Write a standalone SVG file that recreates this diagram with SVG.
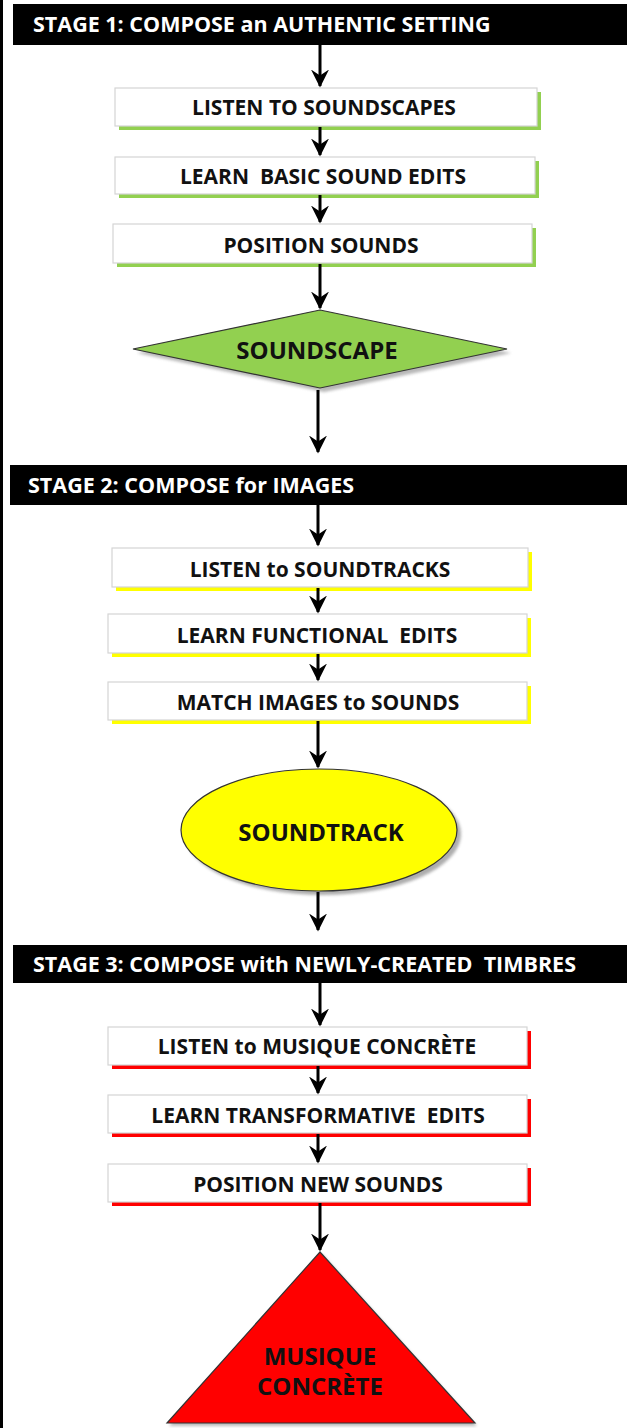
<svg xmlns="http://www.w3.org/2000/svg" width="627" height="1428" viewBox="0 0 627 1428">
  <style>
    text { white-space: pre; }
    .bar { fill: #000; }
    .bar-text { font-family: "Open Sans", "Liberation Sans", sans-serif; font-weight: bold; font-size: 21.5px; fill: #fff; }
    .box { fill: #fff; stroke: #d4d4d4; stroke-width: 1.2; }
    .label { font-family: "Open Sans", "Liberation Sans", sans-serif; font-weight: bold; font-size: 21px; fill: #111; text-anchor: middle; dominant-baseline: central; }
    .big { font-size: 24px; }
    .sh-green { fill: #92d050; }
    .sh-yellow { fill: #ffff00; }
    .sh-red { fill: #ff0000; }
    .conn { stroke: #000; stroke-width: 3; fill: none; marker-end: url(#head); }
    .outline { stroke: #333; stroke-width: 1.2; }
  </style>
  <defs>
    <marker id="head" viewBox="0 0 12 12" refX="11" refY="6" markerWidth="6" markerHeight="6" markerUnits="strokeWidth" orient="auto">
      <path d="M0,0 L12,6 L0,12 L4,6 z" fill="#000"/>
    </marker>
    <filter id="soft" x="-10%" y="-10%" width="130%" height="130%">
      <feGaussianBlur stdDeviation="1.5"/>
    </filter>
  </defs>

  <rect width="627" height="1428" fill="#fff"/>
  <!-- dark left margin -->
  <rect x="0" y="0" width="3" height="1428" fill="#000"/>

  <!-- stage headers -->
  <g id="stage1">
    <rect class="bar" x="13" y="4" width="614" height="41"/>
    <text class="bar-text" x="33" y="32">STAGE 1: COMPOSE an AUTHENTIC SETTING</text>
  </g>
  <g id="stage2">
    <rect class="bar" x="10" y="465" width="617" height="40"/>
    <text class="bar-text" x="28" y="493">STAGE 2: COMPOSE for IMAGES</text>
  </g>
  <g id="stage3">
    <rect class="bar" x="13" y="945" width="614" height="38"/>
    <text class="bar-text" x="33" y="972">STAGE 3: COMPOSE with NEWLY-CREATED  TIMBRES</text>
  </g>

  <!-- stage 1 steps -->
  <g id="listen-soundscapes">
    <rect class="sh-green" x="119" y="92" width="422" height="38"/>
    <rect class="box" x="115" y="88" width="422" height="38"/>
    <text class="label" x="324" y="107">LISTEN TO SOUNDSCAPES</text>
  </g>
  <g id="learn-basic">
    <rect class="sh-green" x="119" y="161" width="420" height="37"/>
    <rect class="box" x="115" y="157" width="420" height="37"/>
    <text class="label" x="323" y="176">LEARN  BASIC SOUND EDITS</text>
  </g>
  <g id="position-sounds">
    <rect class="sh-green" x="117" y="228" width="419" height="39"/>
    <rect class="box" x="113" y="224" width="419" height="39"/>
    <text class="label" x="321" y="245">POSITION SOUNDS</text>
  </g>
  <g id="soundscape">
    <polygon points="324,314 511,353 324,392 137,353" fill="#888" filter="url(#soft)" opacity="0.6"/>
    <polygon class="outline" points="320,310 507,349 320,388 133,349" fill="#92d050"/>
    <text class="label big" x="317" y="349">SOUNDSCAPE</text>
  </g>

  <!-- stage 2 steps -->
  <g id="listen-soundtracks">
    <rect class="sh-yellow" x="116" y="552" width="416" height="39"/>
    <rect class="box" x="112" y="548" width="416" height="39"/>
    <text class="label" x="320" y="569">LISTEN to SOUNDTRACKS</text>
  </g>
  <g id="learn-functional">
    <rect class="sh-yellow" x="112" y="618" width="419" height="39"/>
    <rect class="box" x="108" y="614" width="419" height="39"/>
    <text class="label" x="317" y="635">LEARN FUNCTIONAL  EDITS</text>
  </g>
  <g id="match-images">
    <rect class="sh-yellow" x="112" y="686" width="419" height="38"/>
    <rect class="box" x="108" y="682" width="419" height="38"/>
    <text class="label" x="318" y="702">MATCH IMAGES to SOUNDS</text>
  </g>
  <g id="soundtrack">
    <ellipse cx="323" cy="834" rx="138" ry="61" fill="#777" filter="url(#soft)" opacity="0.6"/>
    <ellipse class="outline" cx="319" cy="830" rx="138" ry="61" fill="#ffff00"/>
    <text class="label big" x="321" y="831">SOUNDTRACK</text>
  </g>

  <!-- stage 3 steps -->
  <g id="listen-concrete">
    <rect class="sh-red" x="112" y="1031" width="419" height="38"/>
    <rect class="box" x="108" y="1027" width="419" height="38"/>
    <text class="label" x="317" y="1046">LISTEN to MUSIQUE CONCRÈTE</text>
  </g>
  <g id="learn-transformative">
    <rect class="sh-red" x="112" y="1099" width="419" height="38"/>
    <rect class="box" x="108" y="1095" width="419" height="38"/>
    <text class="label" x="318" y="1115">LEARN TRANSFORMATIVE  EDITS</text>
  </g>
  <g id="position-new">
    <rect class="sh-red" x="112" y="1168" width="419" height="38"/>
    <rect class="box" x="108" y="1164" width="419" height="38"/>
    <text class="label" x="318" y="1184">POSITION NEW SOUNDS</text>
  </g>
  <g id="musique-concrete">
    <polygon points="322,1254 477,1426 169,1426" fill="#777" filter="url(#soft)" opacity="0.5"/>
    <polygon class="outline" points="320,1252 475,1423 167,1423" fill="#ff0000"/>
    <text class="label big" x="320" y="1355">MUSIQUE</text>
    <text class="label big" x="320" y="1385">CONCRÈTE</text>
  </g>

  <!-- connectors -->
  <g id="connectors">
    <line class="conn" x1="320" y1="45" x2="320" y2="86"/>
    <line class="conn" x1="320" y1="127" x2="320" y2="155"/>
    <line class="conn" x1="320" y1="195" x2="320" y2="222"/>
    <line class="conn" x1="320" y1="264" x2="320" y2="308"/>
    <line class="conn" x1="318" y1="390" x2="318" y2="452"/>
    <line class="conn" x1="318" y1="505" x2="318" y2="545"/>
    <line class="conn" x1="318" y1="588" x2="318" y2="612"/>
    <line class="conn" x1="318" y1="654" x2="318" y2="680"/>
    <line class="conn" x1="318" y1="721" x2="318" y2="767"/>
    <line class="conn" x1="318" y1="892" x2="318" y2="930"/>
    <line class="conn" x1="320" y1="983" x2="320" y2="1025"/>
    <line class="conn" x1="318" y1="1066" x2="318" y2="1093"/>
    <line class="conn" x1="318" y1="1134" x2="318" y2="1162"/>
    <line class="conn" x1="320" y1="1203" x2="320" y2="1250"/>
  </g>
</svg>
